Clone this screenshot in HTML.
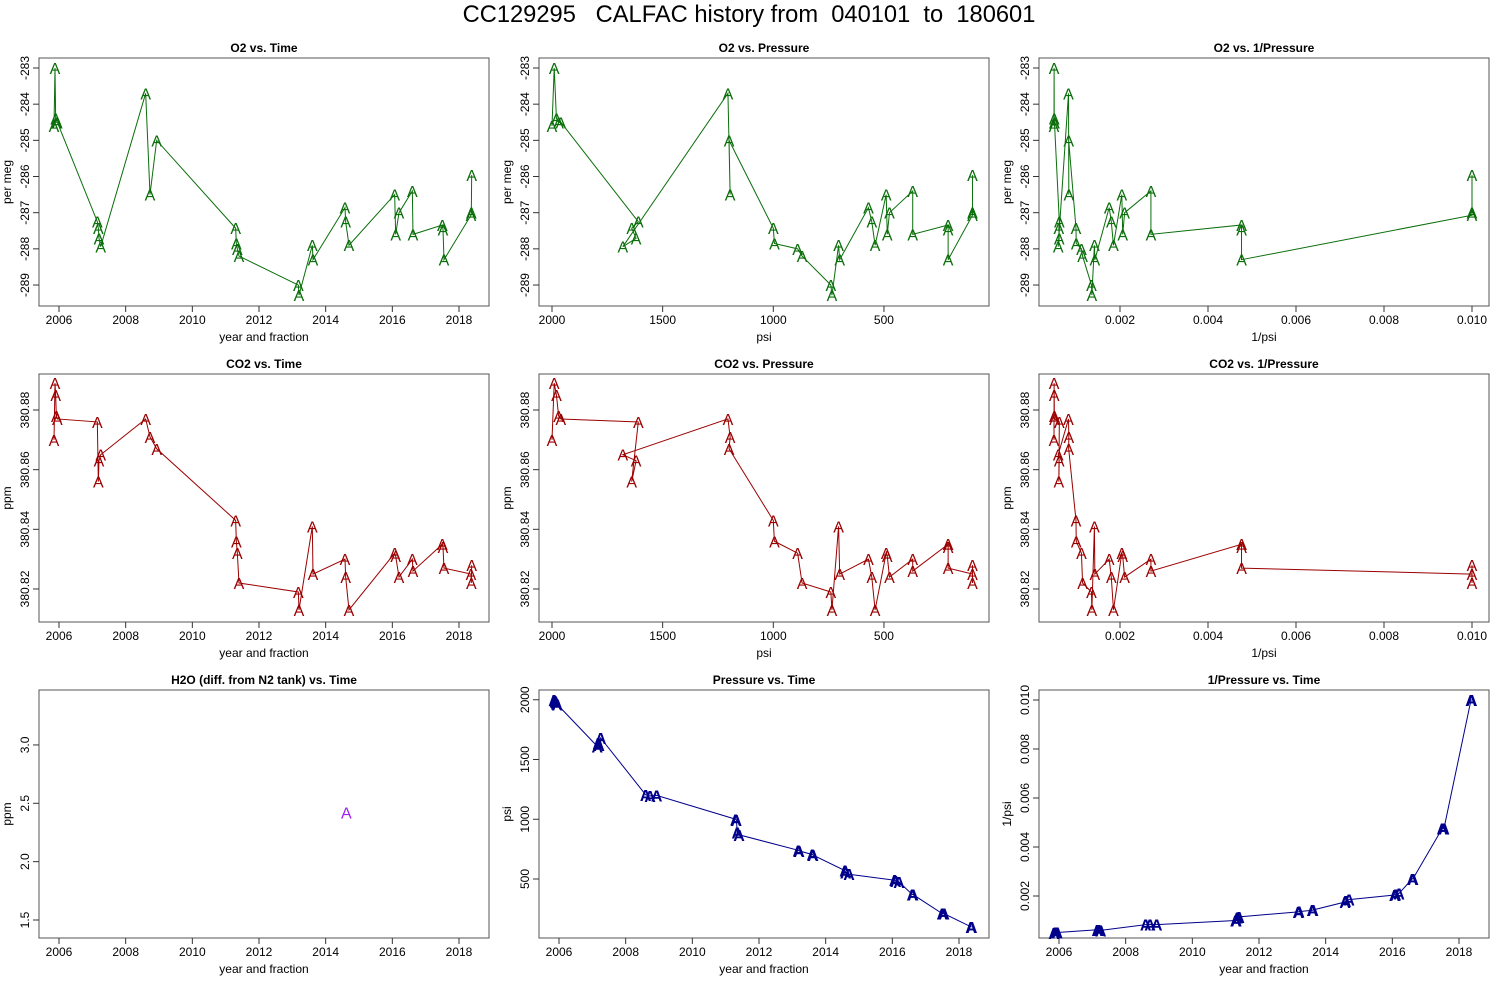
<!DOCTYPE html>
<html><head><meta charset="utf-8"><style>
body{margin:0;background:#fff;}
svg{display:block;font-family:"Liberation Sans",sans-serif;}
</style></head><body>
<svg id="chart" width="1500" height="1000" viewBox="0 0 1500 1000">
<text x="749" y="22" text-anchor="middle" font-size="23.7" style="white-space:pre">CC129295   CALFAC history from  040101  to  180601</text>
</svg>
<script>
const times=[2005.85,2005.88,2005.9,2005.92,2005.95,2007.15,2007.18,2007.2,2007.25,2008.6,2008.73,2008.93,2011.3,2011.32,2011.35,2011.4,2013.18,2013.2,2013.6,2013.62,2014.58,2014.6,2014.7,2016.07,2016.1,2016.2,2016.6,2016.62,2017.5,2017.52,2017.55,2018.36,2018.37,2018.38];
const pressures=[2000,1990,1980,1970,1960,1610,1640,1620,1680,1205,1195,1200,1000,995,890,870,740,735,705,700,570,555,540,490,485,475,370,370,210,210,210,100,100,100];
const o2Values=[-284.6,-283.0,-284.4,-284.5,-284.5,-287.25,-287.43,-287.71,-287.94,-283.7,-286.5,-285.0,-287.43,-287.85,-288.0,-288.2,-289.0,-289.28,-287.9,-288.3,-286.86,-287.25,-287.9,-286.5,-287.6,-287.0,-286.4,-287.6,-287.34,-287.46,-288.3,-287.07,-287.0,-285.96];
const co2Values=[380.870,380.889,380.885,380.878,380.877,380.876,380.856,380.863,380.865,380.877,380.871,380.867,380.843,380.836,380.832,380.822,380.819,380.813,380.841,380.825,380.830,380.824,380.813,380.832,380.831,380.824,380.830,380.826,380.835,380.834,380.827,380.825,380.822,380.828];
const h2oTimes=[2014.62];
const h2oValues=[2.42];
const timeTicks=[2006,2008,2010,2012,2014,2016,2018];
const o2Ticks=[-283,-284,-285,-286,-287,-288,-289];
const co2Ticks=[380.82,380.84,380.86,380.88];
const psiTicks=[2000,1500,1000,500];
const invTicks=[0.002,0.004,0.006,0.008,0.010];
const h2oTicks=[1.5,2.0,2.5,3.0];
const pTicks=[500,1000,1500,2000];

const NS='http://www.w3.org/2000/svg';
const svg=document.getElementById('chart');
function mk(tag,attrs,parent){const e=document.createElementNS(NS,tag);for(const k in attrs)e.setAttribute(k,attrs[k]);(parent||svg).appendChild(e);return e;}

const timeX=c=>t=>39+c*500+20+(t-2006)*33.333;
const psiX=p=>552+(2000-p)*0.2213;
const invX=p=>1032+(1/p)*44000;
const invTickX=v=>1032+v*44000;
const o2Y=v=>68+(-283-v)*36.17;
const co2Y=v=>410+(380.88-v)*2983;
const h2oY=v=>920-(v-1.5)*116.7;
const pY=p=>879-(p-500)*0.1195;
const invY=v=>896-(v-0.002)*24500;

function panel(name,col,row,title,xlab,ylab,xt,xfn,xfmt,yt,yfn,yfmt){
  const L=39+col*500,T=58+row*316,W=450,H=248;
  const g=mk('g',{});
  
  
  const r=mk('rect',{x:L,y:T,width:W,height:H,fill:'none',stroke:'#555','stroke-width':1},g);
  
  
  const tt=mk('text',{x:L+W/2,y:T-6,'text-anchor':'middle','font-size':12,'font-weight':'bold'},g);tt.textContent=title;
  
  
  const xl=mk('text',{x:L+W/2,y:T+H+35,'text-anchor':'middle','font-size':12},g);xl.textContent=xlab;
  
  
  const yl=mk('text',{transform:`translate(${L-28},${T+H/2}) rotate(-90)`,'text-anchor':'middle','font-size':12},g);yl.textContent=ylab;
  
  
  xt.forEach(v=>{const x=xfn(v);mk('line',{x1:x,x2:x,y1:T+H,y2:T+H+6,stroke:'#333'},g);
    const t=mk('text',{x:x,y:T+H+18,'text-anchor':'middle','font-size':12},g);t.textContent=xfmt(v);
    
    });
  yt.forEach(v=>{const y=yfn(v);mk('line',{x1:L-6,x2:L,y1:y,y2:y,stroke:'#333'},g);
    const t=mk('text',{transform:`translate(${L-10},${y}) rotate(-90)`,'text-anchor':'middle','font-size':12},g);t.textContent=yfmt(v);
    
    });
  return g;
}
function series(g,xs,ys,color,line,bold){
  if(line){const pts=xs.map((x,i)=>x+','+ys[i]).join(' ');
    const pl=mk('polyline',{points:pts,fill:'none',stroke:color,'stroke-width':1},g);
    
    }
  xs.forEach((x,i)=>{const t=mk('text',{x:x,y:ys[i]+6,'text-anchor':'middle','font-size':16,fill:color,'font-weight':bold?'bold':'normal'},g);t.textContent='A';
    
    });
}
const yr=v=>String(v), f2=v=>v.toFixed(2), f3=v=>v.toFixed(3), f1=v=>v.toFixed(1), i0=v=>String(v);
const G='#0a6e0a',R='#9b0000',B='#00008b';
let g;
g=panel('o2-vs-time',0,0,'O2 vs. Time','year and fraction','per meg',timeTicks,timeX(0),yr,o2Ticks,o2Y,i0);
series(g,times.map(timeX(0)),o2Values.map(o2Y),G,true);
g=panel('o2-vs-pressure',1,0,'O2 vs. Pressure','psi','per meg',psiTicks,psiX,i0,o2Ticks,o2Y,i0);
series(g,pressures.map(psiX),o2Values.map(o2Y),G,true);
g=panel('o2-vs-inv-pressure',2,0,'O2 vs. 1/Pressure','1/psi','per meg',invTicks,invTickX,f3,o2Ticks,o2Y,i0);
series(g,pressures.map(invX),o2Values.map(o2Y),G,true);
g=panel('co2-vs-time',0,1,'CO2 vs. Time','year and fraction','ppm',timeTicks,timeX(0),yr,co2Ticks,co2Y,f2);
series(g,times.map(timeX(0)),co2Values.map(co2Y),R,true);
g=panel('co2-vs-pressure',1,1,'CO2 vs. Pressure','psi','ppm',psiTicks,psiX,i0,co2Ticks,co2Y,f2);
series(g,pressures.map(psiX),co2Values.map(co2Y),R,true);
g=panel('co2-vs-inv-pressure',2,1,'CO2 vs. 1/Pressure','1/psi','ppm',invTicks,invTickX,f3,co2Ticks,co2Y,f2);
series(g,pressures.map(invX),co2Values.map(co2Y),R,true);
g=panel('h2o-vs-time',0,2,'H2O (diff. from N2 tank) vs. Time','year and fraction','ppm',timeTicks,timeX(0),yr,h2oTicks,h2oY,f1);
series(g,h2oTimes.map(timeX(0)),h2oValues.map(h2oY),'#a020f0',false);
g=panel('pressure-vs-time',1,2,'Pressure vs. Time','year and fraction','psi',timeTicks,timeX(1),yr,pTicks,pY,i0);
series(g,times.map(timeX(1)),pressures.map(pY),B,true,true);
g=panel('inv-pressure-vs-time',2,2,'1/Pressure vs. Time','year and fraction','1/psi',timeTicks,timeX(2),yr,invTicks,invY,f3);
series(g,times.map(timeX(2)),pressures.map(p=>invY(1/p)),B,true,true);
</script>
</body></html>
